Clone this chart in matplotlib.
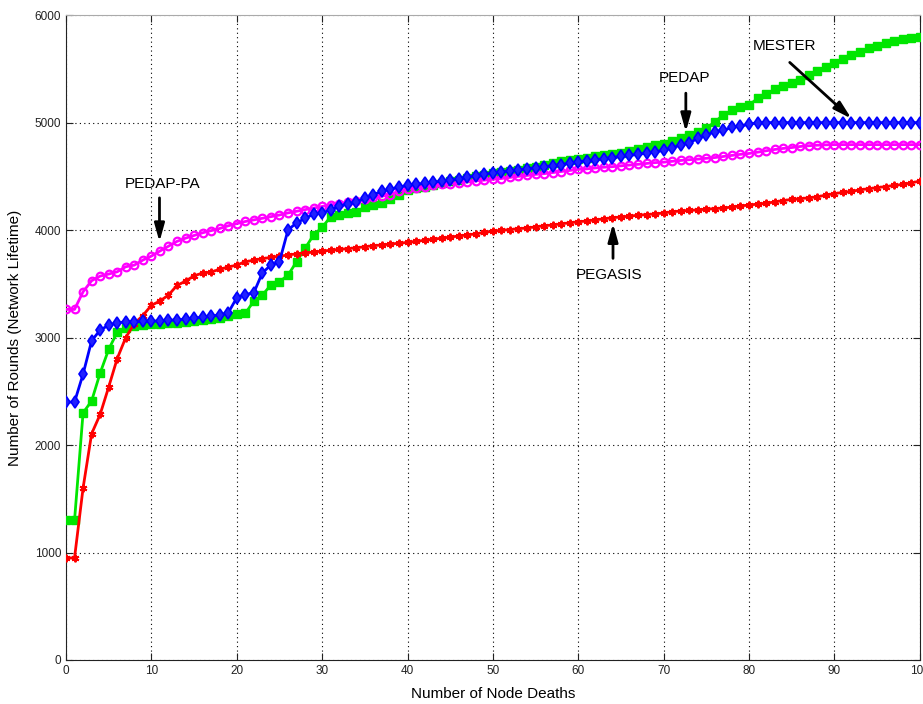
import matplotlib
matplotlib.use("Agg")
import matplotlib.pyplot as plt

plt.rcParams['font.family'] = ['Liberation Sans', 'DejaVu Sans']

deaths = list(range(101))

pegasis = [950, 950, 1600, 2105, 2285, 2540, 2805, 3000, 3130, 3205,
           3300, 3340, 3395, 3485, 3525, 3575, 3600, 3610, 3635, 3655,
           3675, 3705, 3720, 3735, 3745, 3758, 3767, 3780, 3788, 3795,
           3805, 3812, 3820, 3828, 3835, 3845, 3855, 3862, 3870, 3878,
           3885, 3895, 3905, 3915, 3925, 3935, 3945, 3955, 3965, 3978,
           3990, 3998, 4005, 4013, 4020, 4030, 4040, 4048, 4058, 4068,
           4077, 4085, 4095, 4105, 4115, 4122, 4130, 4138, 4145, 4150,
           4160, 4170, 4178, 4183, 4188, 4195, 4200, 4205, 4215, 4225,
           4233, 4242, 4250, 4262, 4275, 4285, 4293, 4300, 4310, 4325,
           4340, 4350, 4360, 4375, 4385, 4395, 4405, 4415, 4425, 4440,
           4455]

pedap = [1300, 1300, 2300, 2410, 2670, 2890, 3050, 3085, 3105, 3120,
         3125, 3130, 3135, 3140, 3145, 3150, 3160, 3170, 3185, 3200,
         3220, 3225, 3340, 3395, 3490, 3520, 3580, 3705, 3830, 3955,
         4025, 4125, 4140, 4155, 4170, 4215, 4230, 4255, 4290, 4330,
         4370, 4390, 4405, 4420, 4440, 4455, 4470, 4485, 4500, 4515,
         4530, 4540, 4550, 4560, 4575, 4590, 4610, 4625, 4640, 4655,
         4665, 4675, 4685, 4695, 4705, 4720, 4735, 4750, 4770, 4790,
         4805, 4830, 4853, 4884, 4915, 4946, 5008, 5070, 5116, 5147,
         5163, 5225, 5265, 5309, 5340, 5370, 5401, 5442, 5482, 5519,
         5557, 5588, 5628, 5659, 5690, 5712, 5737, 5761, 5774, 5783,
         5792]

mester = [2400, 2400, 2660, 2970, 3070, 3115, 3138, 3145, 3148, 3150,
          3152, 3155, 3160, 3165, 3170, 3180, 3190, 3200, 3210, 3230,
          3370, 3400, 3417, 3603, 3674, 3705, 4000, 4068, 4108, 4149,
          4161, 4186, 4223, 4242, 4263, 4294, 4331, 4360, 4380, 4400,
          4415, 4425, 4435, 4445, 4455, 4465, 4475, 4490, 4505, 4520,
          4530, 4540, 4550, 4560, 4570, 4580, 4590, 4600, 4610, 4622,
          4635, 4645, 4655, 4665, 4675, 4685, 4695, 4705, 4715, 4728,
          4742, 4765, 4791, 4812, 4853, 4884, 4915, 4930, 4955, 4967,
          4986, 4998, 5000, 5000, 5000, 5000, 5000, 5000, 5000, 5000,
          5000, 5000, 5000, 5000, 5000, 5000, 5000, 5000, 5000, 5000,
          5000]

pedap_pa = [3262, 3262, 3426, 3529, 3572, 3591, 3612, 3659, 3674, 3721,
            3758, 3805, 3850, 3895, 3925, 3950, 3975, 3995, 4015, 4040,
            4060, 4080, 4095, 4110, 4125, 4140, 4160, 4175, 4190, 4205,
            4220, 4235, 4245, 4260, 4275, 4290, 4305, 4315, 4330, 4360,
            4385, 4395, 4405, 4415, 4425, 4432, 4440, 4450, 4458, 4465,
            4472, 4480, 4490, 4500, 4508, 4518, 4525, 4535, 4545, 4555,
            4565, 4570, 4578, 4585, 4590, 4598, 4605, 4612, 4620, 4628,
            4632, 4640, 4648, 4655, 4660, 4668, 4675, 4685, 4695, 4705,
            4713, 4725, 4738, 4750, 4760, 4768, 4778, 4785, 4790, 4793,
            4795, 4795, 4795, 4795, 4795, 4795, 4795, 4795, 4795, 4795,
            4795]

xticks = [0, 10, 20, 30, 40, 50, 60, 70, 80, 90, 100]
yticks = [0, 1000, 2000, 3000, 4000, 5000, 6000]

fig = plt.figure(figsize=(9.23, 7.04), dpi=100)
ax = fig.add_axes([0.0715, 0.0625, 0.925, 0.916])

ax.plot(deaths, pedap, color='#00e600', lw=2, marker='s', ms=5.5,
        mfc='#00e600', mec='#00e600', zorder=3)
ax.plot(deaths, pedap_pa, color='#ff00ff', lw=2, marker='o', ms=5.5,
        mfc='none', mec='#ff00ff', mew=1.6, zorder=3)
ax.plot(deaths, pegasis, color='#ff0000', lw=2, marker=(6, 2, 0), ms=5.5,
        mec='#ff0000', mew=1.4, zorder=4)
ax.plot(deaths, mester, color='#0000ff', lw=2, marker='d', ms=6,
        mfc='#2020ff', mec='#0000ff', mew=1.2, zorder=5)

ax.set_xlim(0, 100)
ax.set_ylim(0, 6000)
ax.set_xticks(xticks)
ax.set_yticks(yticks)
ax.grid(True, linestyle=(0, (1, 3)), color='black', lw=0.8)
ax.tick_params(direction='in', length=5, labelsize=8.5, top=True, right=True,
               colors='#222222')
for s in ax.spines.values():
    s.set_color('#222222')
ax.spines['top'].set_color('#aaaaaa')

ax.set_xlabel('Number of Node Deaths', fontsize=11, labelpad=7)
ax.set_ylabel('Number of Rounds (Network Lifetime)', fontsize=11, labelpad=9)

arrow = dict(arrowstyle='-|>,head_width=0.25,head_length=0.9', color='black',
             lw=2, mutation_scale=12, shrinkA=0, shrinkB=0)
ax.text(11.3, 4428, 'PEDAP-PA', fontsize=11, ha='center', va='center')
ax.annotate('', xy=(10.95, 3890), xytext=(10.95, 4300), arrowprops=arrow, zorder=6)
ax.text(72.5, 5411, 'PEDAP', fontsize=11, ha='center', va='center')
ax.annotate('', xy=(72.6, 4914), xytext=(72.6, 5274), arrowprops=arrow, zorder=6)
ax.text(63.6, 3581, 'PEGASIS', fontsize=11, ha='center', va='center')
ax.annotate('', xy=(64.07, 4062), xytext=(64.07, 3737), arrowprops=arrow, zorder=6)
ax.text(84.2, 5715, 'MESTER', fontsize=11, ha='center', va='center')
ax.annotate('', xy=(92.0, 5037), xytext=(84.77, 5560), arrowprops=arrow, zorder=6)

fig.savefig('out.png', dpi=100)
